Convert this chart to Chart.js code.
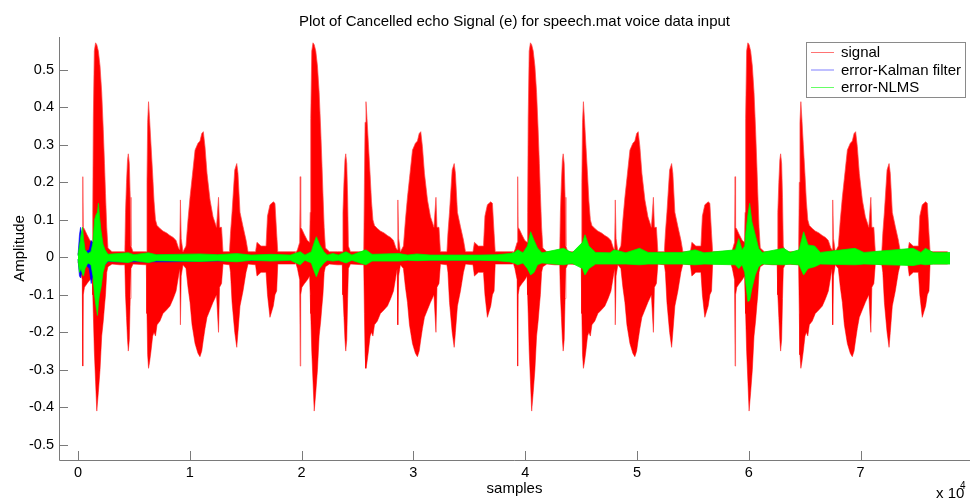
<!DOCTYPE html>
<html>
<head>
<meta charset="utf-8">
<title>Cancelled echo signal</title>
<script src="https://cdn.jsdelivr.net/npm/chart.js@4.4.1/dist/chart.umd.min.js"></script>
<style>
  html, body { margin: 0; padding: 0; background: #fff; }
  #wrap { width: 973px; height: 501px; position: relative; }
</style>
</head>
<body>
<div id="wrap"><canvas id="echoChart"></canvas></div>
<script>
// ---------------------------------------------
// Echo cancellation: input signal vs residual error
// (Kalman filter and NLMS), speech.mat played 4 times.
// Each trace is drawn as its min/max envelope per stretch of samples.
// ---------------------------------------------

// input signal envelope (sample index, upper, lower)
var sigX = [
  0, 180, 380, 430, 470, 580, 810, 1070, 1270, 1320, 1370, 1460, 1570, 1680, 1820, 1970, 2120, 2260, 2370, 2460, 2570, 2680, 3040, 3760, 4190, 4250, 4340, 4430, 4500, 4590, 4670, 4740, 4920, 6110, 6170, 6230, 6310, 6400, 6530, 6680, 6800, 6930, 7070, 7330, 7600, 7930, 8230, 8520, 8770, 8990, 9100, 9160, 9230, 9390, 9660, 9840, 10020, 10200, 10470, 10730, 10910, 11070, 11210, 11360, 11540, 11810, 12080, 12390, 12570, 12660, 12840, 12970, 13550, 13640, 13780, 14020, 14200, 14310, 14490, 14760, 15030, 15210, 15880, 16010, 16370, 16820, 16950, 17170, 17470, 17620, 17770, 17870, 19440,
  19450, 19630, 19830, 19880, 19920, 20030, 20260, 20520, 20720, 20770, 20820, 20910, 21020, 21130, 21270, 21420, 21570, 21710, 21820, 21910, 22020, 22130, 22490, 23210, 23640, 23700, 23790, 23880, 23950, 24040, 24120, 24190, 24370, 25560, 25620, 25680, 25760, 25850, 25980, 26130, 26250, 26380, 26520, 26780, 27050, 27380, 27680, 27970, 28220, 28440, 28550, 28610, 28680, 28840, 29110, 29290, 29470, 29650, 29920, 30180, 30360, 30520, 30660, 30810, 30990, 31260, 31530, 31840, 32020, 32110, 32290, 32420, 33000, 33090, 33230, 33470, 33650, 33760, 33940, 34210, 34480, 34660, 35330, 35460, 35820, 36270, 36400, 36620, 36920, 37070, 37220, 37320, 38890,
  38900, 39080, 39280, 39330, 39370, 39480, 39710, 39970, 40170, 40220, 40270, 40360, 40470, 40580, 40720, 40870, 41020, 41160, 41270, 41360, 41470, 41580, 41940, 42660, 43090, 43150, 43240, 43330, 43400, 43490, 43570, 43640, 43820, 45010, 45070, 45130, 45210, 45300, 45430, 45580, 45700, 45830, 45970, 46230, 46500, 46830, 47130, 47420, 47670, 47890, 48000, 48060, 48130, 48290, 48560, 48740, 48920, 49100, 49370, 49630, 49810, 49970, 50110, 50260, 50440, 50710, 50980, 51290, 51470, 51560, 51740, 51870, 52450, 52540, 52680, 52920, 53100, 53210, 53390, 53660, 53930, 54110, 54780, 54910, 55270, 55720, 55850, 56070, 56370, 56520, 56670, 56770, 58340,
  58350, 58530, 58730, 58780, 58820, 58930, 59160, 59420, 59620, 59670, 59720, 59810, 59920, 60030, 60170, 60320, 60470, 60610, 60720, 60810, 60920, 61030, 61390, 62110, 62540, 62600, 62690, 62780, 62850, 62940, 63020, 63090, 63270, 64460, 64520, 64580, 64660, 64750, 64880, 65030, 65150, 65280, 65420, 65680, 65950, 66280, 66580, 66870, 67120, 67340, 67450, 67510, 67580, 67740, 68010, 68190, 68370, 68550, 68820, 69080, 69260, 69420, 69560, 69710, 69890, 70160, 70430, 70740, 70920, 71010, 71190, 71320, 71900, 71990, 72130, 72370, 72550, 72660, 72840, 73110, 73380, 73560, 74230, 74360, 74720, 75170, 75300, 75520, 75820, 75970, 76120, 76220, 77790
];
var sigHi = [
  0.01, 0.02, 0.04, 0.215, 0.08, 0.075, 0.06, 0.045, 0.04, 0.12, 0.37, 0.55, 0.572, 0.567, 0.55, 0.51, 0.44, 0.34, 0.25, 0.17, 0.08, 0.025, 0.015, 0.015, 0.015, 0.12, 0.2, 0.26, 0.276, 0.25, 0.16, 0.03, 0.015, 0.015, 0.2, 0.36, 0.415, 0.37, 0.3, 0.22, 0.15, 0.1, 0.085, 0.077, 0.07, 0.065, 0.058, 0.053, 0.045, 0.025, 0.02, 0.153, 0.05, 0.015, 0.03, 0.1, 0.16, 0.21, 0.286, 0.304, 0.31, 0.33, 0.335, 0.295, 0.224, 0.153, 0.108, 0.08, 0.16, 0.08, 0.08, 0.015, 0.015, 0.064, 0.12, 0.233, 0.25, 0.224, 0.12, 0.082, 0.046, 0.015, 0.015, 0.04, 0.03, 0.03, 0.11, 0.14, 0.148, 0.144, 0.064, 0.015, 0.015,
  0.01, 0.02, 0.04, 0.215, 0.08, 0.075, 0.06, 0.045, 0.04, 0.12, 0.37, 0.55, 0.572, 0.567, 0.55, 0.51, 0.44, 0.34, 0.25, 0.17, 0.08, 0.025, 0.015, 0.015, 0.015, 0.12, 0.2, 0.26, 0.276, 0.25, 0.16, 0.03, 0.015, 0.015, 0.2, 0.36, 0.415, 0.37, 0.3, 0.22, 0.15, 0.1, 0.085, 0.077, 0.07, 0.065, 0.058, 0.053, 0.045, 0.025, 0.02, 0.153, 0.05, 0.015, 0.03, 0.1, 0.16, 0.21, 0.286, 0.304, 0.31, 0.33, 0.335, 0.295, 0.224, 0.153, 0.108, 0.08, 0.16, 0.08, 0.08, 0.015, 0.015, 0.064, 0.12, 0.233, 0.25, 0.224, 0.12, 0.082, 0.046, 0.015, 0.015, 0.04, 0.03, 0.03, 0.11, 0.14, 0.148, 0.144, 0.064, 0.015, 0.015,
  0.01, 0.02, 0.04, 0.215, 0.08, 0.075, 0.06, 0.045, 0.04, 0.12, 0.37, 0.55, 0.572, 0.567, 0.55, 0.51, 0.44, 0.34, 0.25, 0.17, 0.08, 0.025, 0.015, 0.015, 0.015, 0.12, 0.2, 0.26, 0.276, 0.25, 0.16, 0.03, 0.015, 0.015, 0.2, 0.36, 0.415, 0.37, 0.3, 0.22, 0.15, 0.1, 0.085, 0.077, 0.07, 0.065, 0.058, 0.053, 0.045, 0.025, 0.02, 0.153, 0.05, 0.015, 0.03, 0.1, 0.16, 0.21, 0.286, 0.304, 0.31, 0.33, 0.335, 0.295, 0.224, 0.153, 0.108, 0.08, 0.16, 0.08, 0.08, 0.015, 0.015, 0.064, 0.12, 0.233, 0.25, 0.224, 0.12, 0.082, 0.046, 0.015, 0.015, 0.04, 0.03, 0.03, 0.11, 0.14, 0.148, 0.144, 0.064, 0.015, 0.015,
  0.01, 0.02, 0.04, 0.215, 0.08, 0.075, 0.06, 0.045, 0.04, 0.12, 0.37, 0.55, 0.572, 0.567, 0.55, 0.51, 0.44, 0.34, 0.25, 0.17, 0.08, 0.025, 0.015, 0.015, 0.015, 0.12, 0.2, 0.26, 0.276, 0.25, 0.16, 0.03, 0.015, 0.015, 0.2, 0.36, 0.415, 0.37, 0.3, 0.22, 0.15, 0.1, 0.085, 0.077, 0.07, 0.065, 0.058, 0.053, 0.045, 0.025, 0.02, 0.153, 0.05, 0.015, 0.03, 0.1, 0.16, 0.21, 0.286, 0.304, 0.31, 0.33, 0.335, 0.295, 0.224, 0.153, 0.108, 0.08, 0.16, 0.08, 0.08, 0.015, 0.015, 0.064, 0.12, 0.233, 0.25, 0.224, 0.12, 0.082, 0.046, 0.015, 0.015, 0.04, 0.03, 0.03, 0.11, 0.14, 0.148, 0.144, 0.064, 0.015, 0.015
];
var sigLo = [
  -0.012, -0.03, -0.06, -0.29, -0.1, -0.08, -0.07, -0.06, -0.05, -0.1, -0.15, -0.25, -0.33, -0.41, -0.36, -0.3, -0.21, -0.17, -0.13, -0.1, -0.04, -0.025, -0.018, -0.02, -0.02, -0.1, -0.16, -0.22, -0.25, -0.22, -0.11, -0.03, -0.018, -0.02, -0.15, -0.26, -0.296, -0.28, -0.25, -0.21, -0.2, -0.21, -0.18, -0.17, -0.15, -0.14, -0.13, -0.11, -0.09, -0.05, -0.03, -0.18, -0.05, -0.02, -0.03, -0.08, -0.12, -0.18, -0.23, -0.256, -0.265, -0.25, -0.22, -0.19, -0.16, -0.14, -0.12, -0.1, -0.2, -0.08, -0.07, -0.018, -0.02, -0.04, -0.12, -0.2, -0.24, -0.2, -0.13, -0.09, -0.04, -0.018, -0.02, -0.05, -0.04, -0.04, -0.1, -0.16, -0.13, -0.1, -0.09, -0.018, -0.018,
  -0.012, -0.03, -0.06, -0.29, -0.1, -0.08, -0.07, -0.06, -0.05, -0.1, -0.15, -0.25, -0.33, -0.41, -0.36, -0.3, -0.21, -0.17, -0.13, -0.1, -0.04, -0.025, -0.018, -0.02, -0.02, -0.1, -0.16, -0.22, -0.25, -0.22, -0.11, -0.03, -0.018, -0.02, -0.15, -0.26, -0.296, -0.28, -0.25, -0.21, -0.2, -0.21, -0.18, -0.17, -0.15, -0.14, -0.13, -0.11, -0.09, -0.05, -0.03, -0.18, -0.05, -0.02, -0.03, -0.08, -0.12, -0.18, -0.23, -0.256, -0.265, -0.25, -0.22, -0.19, -0.16, -0.14, -0.12, -0.1, -0.2, -0.08, -0.07, -0.018, -0.02, -0.04, -0.12, -0.2, -0.24, -0.2, -0.13, -0.09, -0.04, -0.018, -0.02, -0.05, -0.04, -0.04, -0.1, -0.16, -0.13, -0.1, -0.09, -0.018, -0.018,
  -0.012, -0.03, -0.06, -0.29, -0.1, -0.08, -0.07, -0.06, -0.05, -0.1, -0.15, -0.25, -0.33, -0.41, -0.36, -0.3, -0.21, -0.17, -0.13, -0.1, -0.04, -0.025, -0.018, -0.02, -0.02, -0.1, -0.16, -0.22, -0.25, -0.22, -0.11, -0.03, -0.018, -0.02, -0.15, -0.26, -0.296, -0.28, -0.25, -0.21, -0.2, -0.21, -0.18, -0.17, -0.15, -0.14, -0.13, -0.11, -0.09, -0.05, -0.03, -0.18, -0.05, -0.02, -0.03, -0.08, -0.12, -0.18, -0.23, -0.256, -0.265, -0.25, -0.22, -0.19, -0.16, -0.14, -0.12, -0.1, -0.2, -0.08, -0.07, -0.018, -0.02, -0.04, -0.12, -0.2, -0.24, -0.2, -0.13, -0.09, -0.04, -0.018, -0.02, -0.05, -0.04, -0.04, -0.1, -0.16, -0.13, -0.1, -0.09, -0.018, -0.018,
  -0.012, -0.03, -0.06, -0.29, -0.1, -0.08, -0.07, -0.06, -0.05, -0.1, -0.15, -0.25, -0.33, -0.41, -0.36, -0.3, -0.21, -0.17, -0.13, -0.1, -0.04, -0.025, -0.018, -0.02, -0.02, -0.1, -0.16, -0.22, -0.25, -0.22, -0.11, -0.03, -0.018, -0.02, -0.15, -0.26, -0.296, -0.28, -0.25, -0.21, -0.2, -0.21, -0.18, -0.17, -0.15, -0.14, -0.13, -0.11, -0.09, -0.05, -0.03, -0.18, -0.05, -0.02, -0.03, -0.08, -0.12, -0.18, -0.23, -0.256, -0.265, -0.25, -0.22, -0.19, -0.16, -0.14, -0.12, -0.1, -0.2, -0.08, -0.07, -0.018, -0.02, -0.04, -0.12, -0.2, -0.24, -0.2, -0.13, -0.09, -0.04, -0.018, -0.02, -0.05, -0.04, -0.04, -0.1, -0.16, -0.13, -0.1, -0.09, -0.018, -0.018
];

// residual error after the Kalman filter
var kalX  = [0, 130, 230, 330, 450, 700, 1000, 1180, 1280, 1400, 2700, 3500, 8000, 14000, 19000, 38000, 39100, 78000];
var kalHi = [0.005, 0.06, 0.08, 0.06, 0.03, 0.015, 0.02, 0.045, 0.04, 0.04, 0.006, 0.006, 0.006, 0.005, 0.005, 0.005, 0.01, 0.01];
var kalLo = [-0.005, -0.05, -0.055, -0.04, -0.03, -0.02, -0.03, -0.07, -0.055, -0.05, -0.011, -0.012, -0.012, -0.009, -0.007, -0.007, -0.012, -0.014];

// residual error after NLMS
var nlmsX = [
  0, 130, 270, 400, 490, 630, 890, 1160, 1340, 1480, 1610, 1740, 1830, 1920, 2060, 2240, 2420, 2680, 4500, 5000, 6300, 7000, 10900, 12500, 14200, 15500, 17300, 19000,
  19880, 20300, 20870, 21100, 21320, 21600, 22000, 22300, 22800, 23300, 23970, 24500, 25750, 26300, 28700, 29500, 30300, 31500, 36000, 37500, 38600,
  39000, 39330, 39800, 40200, 40490, 40800, 41100, 41500, 43430, 44200, 45130, 45350, 45700, 46300, 47600, 47950, 49000, 50230, 51000, 54000, 55200, 56000,
  58800, 59100, 59400, 59640, 59720, 59920, 60080, 60280, 60580, 60880, 61200, 63120, 63700, 64500, 64910, 65300, 65900, 66400, 69500, 70300, 74700, 75400, 75800, 76500, 78000
];
var nlmsHi = [
  0.005, 0.03, 0.06, 0.08, 0.05, 0.02, 0.01, 0.015, 0.04, 0.1, 0.113, 0.12, 0.144, 0.11, 0.07, 0.035, 0.02, 0.008, 0.012, 0.007, 0.012, 0.007, 0.009, 0.007, 0.01, 0.006, 0.008, 0.006,
  0.015, 0.006, 0.015, 0.037, 0.055, 0.035, 0.015, 0.006, 0.01, 0.006, 0.015, 0.006, 0.02, 0.008, 0.01, 0.006, 0.009, 0.006, 0.006, 0.007, 0.01,
  0.012, 0.02, 0.012, 0.03, 0.068, 0.045, 0.025, 0.012, 0.024, 0.012, 0.04, 0.06, 0.03, 0.013, 0.012, 0.02, 0.012, 0.024, 0.013, 0.013, 0.02, 0.012,
  0.02, 0.05, 0.02, 0.03, 0.06, 0.113, 0.144, 0.095, 0.06, 0.024, 0.013, 0.024, 0.013, 0.02, 0.068, 0.033, 0.03, 0.013, 0.024, 0.013, 0.024, 0.013, 0.024, 0.013, 0.013
];
var nlmsLo = [
  -0.005, -0.04, -0.03, -0.045, -0.05, -0.03, -0.015, -0.02, -0.05, -0.1, -0.13, -0.155, -0.12, -0.1, -0.08, -0.04, -0.02, -0.01, -0.014, -0.009, -0.014, -0.009, -0.011, -0.009, -0.012, -0.008, -0.01, -0.008,
  -0.02, -0.008, -0.015, -0.035, -0.052, -0.03, -0.015, -0.008, -0.01, -0.008, -0.015, -0.008, -0.02, -0.01, -0.01, -0.008, -0.009, -0.008, -0.008, -0.009, -0.012,
  -0.015, -0.02, -0.015, -0.03, -0.047, -0.04, -0.02, -0.015, -0.02, -0.016, -0.03, -0.047, -0.03, -0.018, -0.018, -0.018, -0.018, -0.02, -0.018, -0.018, -0.02, -0.018,
  -0.02, -0.03, -0.02, -0.04, -0.065, -0.118, -0.115, -0.083, -0.047, -0.025, -0.018, -0.02, -0.018, -0.02, -0.047, -0.03, -0.025, -0.018, -0.02, -0.018, -0.022, -0.018, -0.02, -0.018, -0.018
];

// axes
var xTicks = [0, 10000, 20000, 30000, 40000, 50000, 60000, 70000];
var xTickLabels = ["0", "1", "2", "3", "4", "5", "6", "7"];
var yTicks = [-0.5, -0.4, -0.3, -0.2, -0.1, 0, 0.1, 0.2, 0.3, 0.4, 0.5];
var yTickLabels = ["-0.5", "-0.4", "-0.3", "-0.2", "-0.1", "0", "0.1", "0.2", "0.3", "0.4", "0.5"];
var seriesNames = ["signal", "error-Kalman filter", "error-NLMS"];

var FONT = "'Liberation Sans', Arial, Helvetica, sans-serif";

function toPoints(xs, ys) {
  return xs.map(function (x, i) { return { x: x, y: ys[i] }; });
}

function band(xs, hi, lo, fillCol, edgeCol, order) {
  return [
    { data: toPoints(xs, hi), borderColor: edgeCol, backgroundColor: fillCol,
      borderWidth: 1, pointRadius: 0, tension: 0, fill: "+1", order: order },
    { data: toPoints(xs, lo), borderColor: edgeCol, backgroundColor: fillCol,
      borderWidth: 1, pointRadius: 0, tension: 0, fill: false, order: order }
  ];
}

// title, axis labels, inward ticks and the legend box
var matlabDecor = {
  id: "matlabDecor",
  afterDraw: function (chart) {
    var ctx = chart.ctx, a = chart.chartArea;
    var xs = chart.scales.x, ys = chart.scales.y;
    ctx.save();

    ctx.strokeStyle = "#7a7a7a";
    ctx.lineWidth = 1;
    ctx.beginPath();
    ctx.moveTo(a.left + 0.5, a.top);
    ctx.lineTo(a.left + 0.5, a.bottom + 0.5);
    ctx.lineTo(a.right, a.bottom + 0.5);
    yTicks.forEach(function (v) {
      var py = Math.round(ys.getPixelForValue(v)) + 0.5;
      ctx.moveTo(a.left, py);
      ctx.lineTo(a.left + 9, py);
    });
    xTicks.forEach(function (v) {
      var px = Math.round(xs.getPixelForValue(v)) + 0.5;
      ctx.moveTo(px, a.bottom);
      ctx.lineTo(px, a.bottom - 9);
    });
    ctx.stroke();

    ctx.fillStyle = "#000";
    ctx.font = "15px " + FONT;
    ctx.textAlign = "center";
    ctx.textBaseline = "alphabetic";
    var cx = (a.left + a.right) / 2;
    ctx.fillText("Plot of Cancelled echo Signal (e) for speech.mat voice data input", cx, 26);
    ctx.fillText("samples", cx, 493);

    ctx.save();
    ctx.translate(24, (a.top + a.bottom) / 2);
    ctx.rotate(-Math.PI / 2);
    ctx.fillText("Amplitude", 0, 0);
    ctx.restore();

    ctx.textAlign = "left";
    ctx.fillText("x 10", 936, 498);
    ctx.font = "10px " + FONT;
    ctx.fillText("4", 960, 489);

    // legend
    var lx = 806, ly = 42, lw = 159, lh = 55;
    ctx.fillStyle = "#fff";
    ctx.fillRect(lx, ly, lw, lh);
    ctx.strokeStyle = "#8a8a8a";
    ctx.strokeRect(lx + 0.5, ly + 0.5, lw, lh);
    var rows = [52, 69.5, 87];
    var cols = ["rgba(255,0,0,0.55)", "rgba(0,0,255,0.5)", "rgba(0,255,0,0.6)"];
    ctx.font = "15px " + FONT;
    seriesNames.forEach(function (name, i) {
      ctx.strokeStyle = cols[i];
      ctx.beginPath();
      ctx.moveTo(811, rows[i] + 0.5);
      ctx.lineTo(834, rows[i] + 0.5);
      ctx.stroke();
      ctx.fillStyle = "#000";
      ctx.fillText(name, 841, rows[i] + 5);
    });
    ctx.restore();
  }
};

var datasets = []
  .concat(band(sigX, sigHi, sigLo, "#ff0000", "rgba(255,70,70,0.7)", 3))
  .concat(band(kalX, kalHi, kalLo, "#0000ff", "rgba(0,0,255,0.6)", 2))
  .concat(band(nlmsX, nlmsHi, nlmsLo, "#00ff00", "rgba(0,235,0,0.8)", 1));

new Chart(document.getElementById("echoChart"), {
  type: "line",
  data: { datasets: datasets },
  options: {
    responsive: true,
    maintainAspectRatio: false,
    animation: false,
    events: [],
    layout: { padding: { top: 37, right: 3, left: 0, bottom: 0 } },
    plugins: { legend: { display: false }, tooltip: { enabled: false }, title: { display: false } },
    scales: {
      x: {
        type: "linear",
        min: -1700,
        max: 79790,
        afterFit: function (s) { s.height = 41; },
        afterBuildTicks: function (s) { s.ticks = xTicks.map(function (v) { return { value: v }; }); },
        ticks: {
          autoSkip: false, maxRotation: 0, padding: 4, color: "#000",
          font: { family: FONT, size: 14.5 },
          callback: function (v) { return xTickLabels[xTicks.indexOf(v)]; }
        },
        grid: { display: false, drawTicks: false },
        border: { display: false }
      },
      y: {
        type: "linear",
        min: -0.5405,
        max: 0.5875,
        afterFit: function (s) { s.width = 59; },
        afterBuildTicks: function (s) { s.ticks = yTicks.map(function (v) { return { value: v }; }); },
        ticks: {
          autoSkip: false, padding: 5, color: "#000",
          font: { family: FONT, size: 14.5 },
          callback: function (v) { return yTickLabels[yTicks.indexOf(v)]; }
        },
        grid: { display: false, drawTicks: false },
        border: { display: false }
      }
    }
  },
  plugins: [matlabDecor]
});
</script>
</body>
</html>
